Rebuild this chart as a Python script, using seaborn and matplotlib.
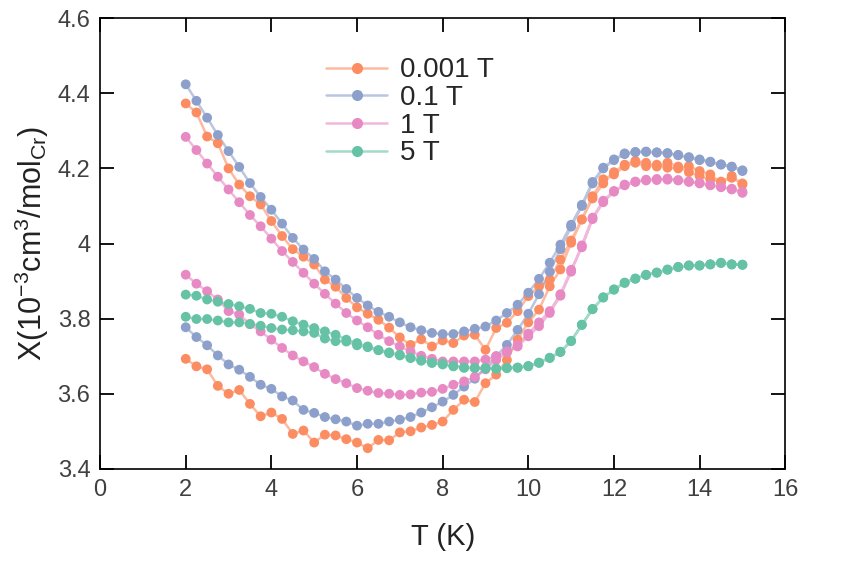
import numpy as np
import pandas as pd
import seaborn as sns
import matplotlib.pyplot as plt
from matplotlib.lines import Line2D
from matplotlib.ticker import FuncFormatter

#%% data, T in K, chi in 1e-3 cm^3/mol_Cr
temps = [2.0, 2.25, 2.5, 2.75, 3.0, 3.25, 3.5, 3.75, 4.0, 4.25, 4.5, 4.75,
         5.0, 5.25, 5.5, 5.75, 6.0, 6.25, 6.5, 6.75, 7.0, 7.25, 7.5, 7.75,
         8.0, 8.25, 8.5, 8.75, 9.0, 9.25, 9.5, 9.75, 10.0, 10.25, 10.5, 10.75,
         11.0, 11.25, 11.5, 11.75, 12.0, 12.25, 12.5, 12.75, 13.0, 13.25, 13.5,
         13.75, 14.0, 14.25, 14.5, 14.75, 15.0]

fields = ['0.001 T', '0.1 T', '1 T', '5 T']
colors = ['#fc8d62', '#8da0cb', '#e78ac3', '#66c2a5']

# zero-field-cooled (lower) branch
zfc_0001 = [3.693, 3.673, 3.665, 3.621, 3.600, 3.610, 3.573, 3.540, 3.550, 3.533, 3.493, 3.502,
            3.470, 3.491, 3.489, 3.479, 3.470, 3.455, 3.477, 3.476, 3.497, 3.500, 3.510, 3.517,
            3.526, 3.557, 3.584, 3.578, 3.628, 3.651, 3.690, 3.744, 3.790, 3.824, 3.886, 3.931,
            4.002, 4.064, 4.120, 4.160, 4.190, 4.210, 4.220, 4.215, 4.205, 4.215, 4.205,
            4.190, 4.180, 4.170, 4.165, 4.175, 4.160]
zfc_01 = [3.777, 3.751, 3.729, 3.702, 3.678, 3.664, 3.645, 3.624, 3.613, 3.593, 3.582, 3.557,
          3.549, 3.538, 3.532, 3.526, 3.515, 3.520, 3.520, 3.526, 3.531, 3.538, 3.550, 3.564,
          3.579, 3.597, 3.619, 3.640, 3.669, 3.700, 3.730, 3.770, 3.813, 3.865, 3.925, 3.985,
          4.045, 4.100, 4.160, 4.200, 4.222, 4.238, 4.243, 4.245, 4.242, 4.240, 4.236,
          4.230, 4.222, 4.218, 4.210, 4.204, 4.195]
zfc_1 = [3.917, 3.893, 3.873, 3.851, 3.820, 3.811, 3.785, 3.766, 3.744, 3.722, 3.702, 3.686,
         3.671, 3.653, 3.639, 3.628, 3.615, 3.608, 3.602, 3.600, 3.597, 3.598, 3.603, 3.605,
         3.613, 3.624, 3.633, 3.645, 3.665, 3.690, 3.710, 3.730, 3.760, 3.790, 3.820, 3.865,
         3.930, 3.990, 4.065, 4.110, 4.138, 4.155, 4.165, 4.170, 4.172, 4.170, 4.168,
         4.165, 4.160, 4.156, 4.150, 4.146, 4.138]
zfc_5 = [3.805, 3.799, 3.799, 3.795, 3.790, 3.790, 3.786, 3.781, 3.775, 3.771, 3.769, 3.766,
         3.762, 3.747, 3.740, 3.739, 3.729, 3.724, 3.716, 3.708, 3.702, 3.696, 3.689, 3.682,
         3.678, 3.674, 3.669, 3.668, 3.667, 3.667, 3.668, 3.670, 3.674, 3.682, 3.696, 3.712,
         3.741, 3.783, 3.825, 3.857, 3.878, 3.895, 3.907, 3.916, 3.923, 3.930, 3.937,
         3.942, 3.942, 3.945, 3.948, 3.945, 3.943]

# field-cooled (upper) branch
fc_0001 = [4.373, 4.349, 4.285, 4.267, 4.200, 4.157, 4.126, 4.104, 4.060, 4.020, 3.985, 3.965,
           3.944, 3.904, 3.885, 3.855, 3.830, 3.813, 3.797, 3.776, 3.750, 3.730, 3.745, 3.726,
           3.742, 3.735, 3.755, 3.757, 3.717, 3.775, 3.789, 3.820, 3.860, 3.886, 3.904, 3.957,
           4.008, 4.064, 4.126, 4.171, 4.184, 4.206, 4.215, 4.206, 4.210, 4.202, 4.200,
           4.206, 4.193, 4.184, 4.162, 4.180, 4.157]
fc_01 = [4.424, 4.380, 4.335, 4.289, 4.246, 4.204, 4.161, 4.124, 4.090, 4.053, 4.015, 3.984,
         3.959, 3.926, 3.904, 3.879, 3.855, 3.835, 3.818, 3.805, 3.790, 3.777, 3.769, 3.762,
         3.759, 3.759, 3.766, 3.773, 3.779, 3.795, 3.815, 3.837, 3.869, 3.906, 3.949, 3.997,
         4.050, 4.103, 4.164, 4.202, 4.224, 4.240, 4.244, 4.244, 4.243, 4.241, 4.235,
         4.229, 4.224, 4.217, 4.211, 4.205, 4.193]
fc_1 = [4.284, 4.249, 4.213, 4.178, 4.144, 4.110, 4.076, 4.046, 4.013, 3.980, 3.951, 3.922,
        3.893, 3.866, 3.840, 3.815, 3.795, 3.777, 3.757, 3.740, 3.726, 3.713, 3.701, 3.693,
        3.686, 3.686, 3.686, 3.686, 3.691, 3.700, 3.713, 3.726, 3.753, 3.780, 3.815, 3.861,
        3.925, 3.995, 4.069, 4.114, 4.140, 4.157, 4.164, 4.168, 4.169, 4.173, 4.169,
        4.164, 4.162, 4.155, 4.151, 4.144, 4.135]
fc_5 = [3.864, 3.861, 3.851, 3.845, 3.839, 3.833, 3.826, 3.815, 3.813, 3.805, 3.793, 3.784,
        3.775, 3.766, 3.757, 3.744, 3.735, 3.726, 3.716, 3.710, 3.704, 3.695, 3.688, 3.683,
        3.680, 3.673, 3.670, 3.669, 3.668, 3.666, 3.669, 3.669, 3.673, 3.683, 3.695, 3.711,
        3.740, 3.784, 3.826, 3.856, 3.877, 3.896, 3.906, 3.917, 3.922, 3.931, 3.938,
        3.941, 3.941, 3.944, 3.949, 3.944, 3.944]

zfc = [zfc_0001, zfc_01, zfc_1, zfc_5]
fc = [fc_0001, fc_01, fc_1, fc_5]

#%% long table: warm up along ZFC, cool down along FC
frames = []
for name, lo, hi in zip(fields, zfc, fc):
    frames.append(pd.DataFrame({'T': temps + temps[::-1],
                                'chi': lo + hi[::-1],
                                'field': name}))
df = pd.concat(frames, ignore_index=True)

#%% plot
sns.set_style('ticks')
plt.rcParams['font.family'] = ['Liberation Sans', 'DejaVu Sans']
plt.rcParams['mathtext.fontset'] = 'custom'
plt.rcParams['mathtext.rm'] = 'Liberation Sans'
plt.rcParams['mathtext.it'] = 'Liberation Sans'

fig = plt.figure(figsize=(8.48, 5.69), dpi=100)
ax = fig.add_axes([0.118, 0.176, 0.808, 0.792])

pal = dict(zip(fields, colors))
sns.lineplot(data=df, x='T', y='chi', hue='field', hue_order=fields, palette=pal,
             sort=False, estimator=None, legend=False, lw=1.8, alpha=0.6, ax=ax)
sns.scatterplot(data=df, x='T', y='chi', hue='field', hue_order=fields, palette=pal,
                s=50, linewidth=0, legend=False, ax=ax, zorder=3)

ax.set_xlim(0, 16)
ax.set_ylim(3.4, 4.6)
ax.set_xticks(np.arange(0, 17, 2))
ax.set_yticks([3.4, 3.6, 3.8, 4.0, 4.2, 4.4, 4.6])
ax.yaxis.set_major_formatter(FuncFormatter(lambda v, p: '%g' % v))
ax.tick_params(direction='in', length=10, width=1.3, color='black', top=True, right=True,
               labelsize=17, labelcolor='#404040', pad=7)
for sp in ax.spines.values():
    sp.set_linewidth(1.2)
    sp.set_color('black')

ax.set_xlabel('T (K)', fontsize=21, labelpad=16, color='#222222')
ax.set_ylabel('Χ(10$^{-3}$cm$^{3}$/mol$_{\\mathrm{Cr}}$)', fontsize=22, labelpad=5,
              color='#222222')

handles = []
for c in colors:
    ln = Line2D([], [], color=c, lw=1.8, alpha=0.6)
    mk = Line2D([], [], color=c, marker='o', ms=8, lw=0, mec='none')
    handles.append((ln, mk))
ax.legend(handles, fields, loc='upper left', bbox_to_anchor=(0.33, 0.913),
          frameon=False, fontsize=20, handlelength=2.2, handletextpad=0.45,
          labelspacing=0.06, borderpad=0, borderaxespad=0)

plt.savefig('out.png', dpi=100)
